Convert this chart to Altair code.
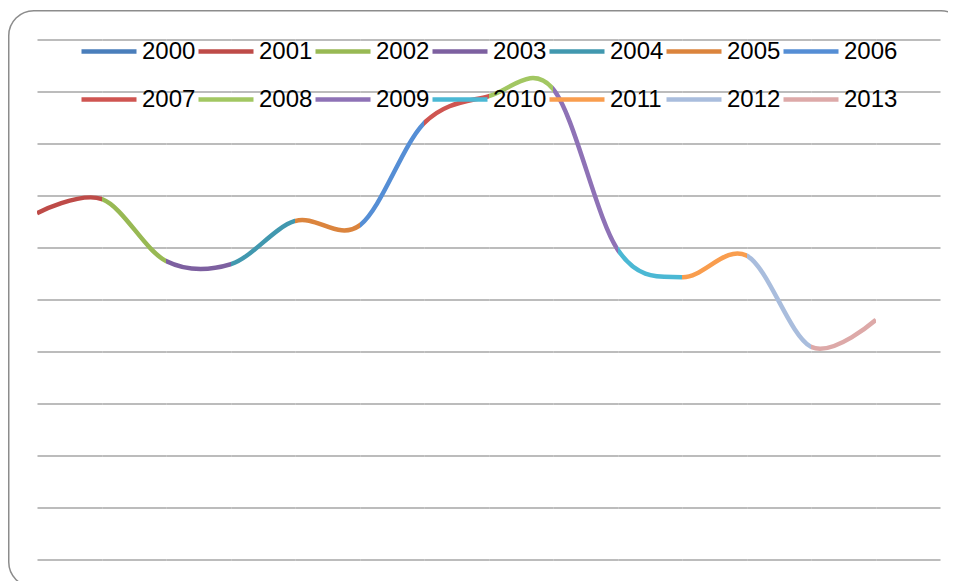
import altair as alt
import pandas as pd

# Legend categories (one colour per year segment)
years = ["2000", "2001", "2002", "2003", "2004", "2005", "2006",
         "2007", "2008", "2009", "2010", "2011", "2012", "2013"]
colors = ["#4A7EBB", "#BE4B48", "#98B954", "#7D60A0", "#4198AF", "#DB843D", "#558ED5",
          "#CF5551", "#A2C762", "#8E72B6", "#4BB8D4", "#F99D4E", "#A9BDDD", "#DDA9A8"]

# Curve points (category index, value); segment k (P_k -> P_k+1) belongs to year 2001+k
point_index = [0, 1, 2, 3, 4, 5, 6, 7, 8, 9, 10, 11, 12, 13]
point_value = [66.6, 69.3, 57.4, 56.8, 65.1, 64.3, 83.9, 89.1, 90.5, 59.5, 54.3, 58.4, 40.9, 46.1]

grid_values = [0, 10, 20, 30, 40, 50, 60, 70, 80, 90, 100]

pts = pd.DataFrame({"x": point_index, "v": point_value})

PANEL_H = 520

legend = alt.Legend(
    orient="none", legendX=42, legendY=-18, columns=7, direction="horizontal", title=None,
    symbolType="stroke", symbolSize=3025, symbolStrokeWidth=4.5,
    labelFontSize=24, labelFont="Liberation Sans", labelColor="#000000",
    labelOffset=3, columnPadding=-7, rowPadding=6,
)

color_scale = alt.Scale(domain=years, range=colors)
y_axis = alt.Axis(grid=True, labels=False, ticks=False, domain=False, title=None,
                  values=grid_values, gridColor="#a6a6a6", gridWidth=1.3)

panels = []
for k in range(14):
    pw = 65 if k % 2 == 0 else 64
    seg_year = years[k + 1] if k + 1 < len(years) else years[-1]
    line = alt.Chart(pts).transform_calculate(
        year=f"'{seg_year}'"
    ).mark_line(
        interpolate="cardinal", tension=0, strokeWidth=4.5, clip=True, strokeCap="butt"
    ).encode(
        x=alt.X("x:Q", scale=alt.Scale(domain=[k, k + 1], nice=False, zero=False), axis=None),
        y=alt.Y("v:Q", scale=alt.Scale(domain=[0, 100], nice=False), axis=y_axis),
        color=alt.Color("year:N", scale=color_scale, legend=legend),
        opacity=alt.value(1 if k < 13 else 0),
    )
    if k == 0:
        frame = alt.Chart(pd.DataFrame({"f": [0]})).mark_rect(
            fill="#ffffff", fillOpacity=0, stroke="#8c8c8c", strokeWidth=1.5, cornerRadius=25
        ).encode(
            x=alt.value(-28.25), x2=alt.value(929), y=alt.value(-28.75), y2=alt.value(547.5)
        )
        panels.append(alt.layer(frame, line).properties(width=pw, height=PANEL_H))
    else:
        panels.append(line.properties(width=pw, height=PANEL_H))

chart = alt.hconcat(*panels, spacing=0, bounds="flush").properties(
    autosize=alt.AutoSizeParams(type="none"),
    padding={"left": 29, "top": 31.5, "right": 911, "bottom": 532.5},
    background="#ffffff",
).configure_view(stroke="transparent", strokeWidth=0)

chart.save("out.html", embed_options={"renderer": "svg", "actions": False})
